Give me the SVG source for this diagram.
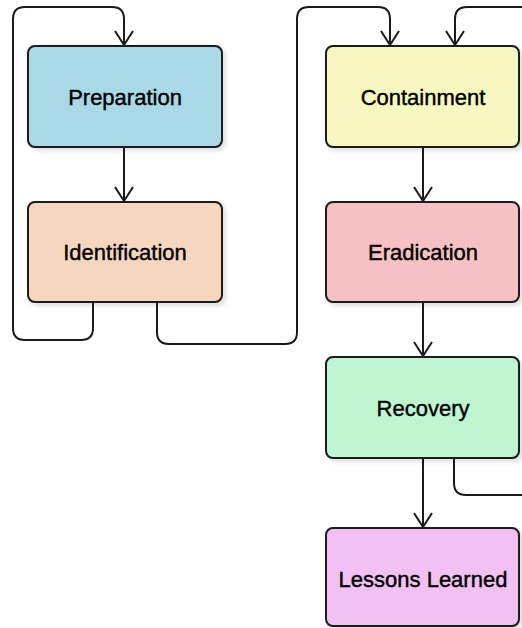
<svg xmlns="http://www.w3.org/2000/svg" width="522" height="628" viewBox="0 0 522 628">
<style>
.box{stroke:#1a1a1a;stroke-width:2;}
.lbl{font-family:"Liberation Sans",Arial,sans-serif;font-size:22px;fill:#000;stroke:#000;stroke-width:0.4;text-anchor:middle;}
.edge{fill:none;stroke:#1a1a1a;stroke-width:2;}
</style>
<defs>
<marker id="arr" viewBox="0 0 16 20" refX="15" refY="10" markerWidth="16" markerHeight="20" markerUnits="userSpaceOnUse" orient="auto">
<path d="M1,1 L15,10 L1,19" fill="none" stroke="#1a1a1a" stroke-width="2"/>
</marker>
<filter id="sh" x="-10%" y="-10%" width="130%" height="130%">
<feDropShadow dx="3" dy="3" stdDeviation="2" flood-color="#000" flood-opacity="0.12"/>
</filter>
</defs>
<rect width="522" height="628" fill="#fff"/>
<g id="connectors">
<path class="edge" d="M124,147 V201" marker-end="url(#arr)"/>
<path class="edge" d="M93,302 V328 Q93,340 81,340 H25 Q13,340 13,328 V19 Q13,7 25,7 H112 Q124,7 124,19 V45" marker-end="url(#arr)"/>
<path class="edge" d="M157,302 V332 Q157,344 169,344 H285 Q297,344 297,332 V19 Q297,7 309,7 H378 Q390,7 390,19 V45" marker-end="url(#arr)"/>
<path class="edge" d="M423,147 V201" marker-end="url(#arr)"/>
<path class="edge" d="M423,302 V356" marker-end="url(#arr)"/>
<path class="edge" d="M423,458 V527" marker-end="url(#arr)"/>
<path class="edge" d="M454,458 V483 Q454,495 466,495 H540 V7 H467 Q455,7 455,19 V45" marker-end="url(#arr)"/>
</g>
<g id="preparation">
<rect class="box" x="28" y="46" width="194" height="101" rx="7" fill="#a9d8e6" filter="url(#sh)"/>
<text class="lbl" x="125" y="105">Preparation</text>
</g>
<g id="identification">
<rect class="box" x="28" y="202" width="194" height="100" rx="7" fill="#f7d6bf" filter="url(#sh)"/>
<text class="lbl" x="125" y="260">Identification</text>
</g>
<g id="containment">
<rect class="box" x="326" y="46" width="193" height="101" rx="7" fill="#f7f7c1" filter="url(#sh)"/>
<text class="lbl" x="423" y="105">Containment</text>
</g>
<g id="eradication">
<rect class="box" x="326" y="202" width="193" height="100" rx="7" fill="#f6c1c2" filter="url(#sh)"/>
<text class="lbl" x="423" y="260">Eradication</text>
</g>
<g id="recovery">
<rect class="box" x="326" y="357" width="193" height="101" rx="7" fill="#bff5d1" filter="url(#sh)"/>
<text class="lbl" x="423" y="416">Recovery</text>
</g>
<g id="lessons">
<rect class="box" x="326" y="528" width="193" height="98" rx="7" fill="#f1c1f4" filter="url(#sh)"/>
<text class="lbl" x="423" y="587">Lessons Learned</text>
</g>
</svg>
